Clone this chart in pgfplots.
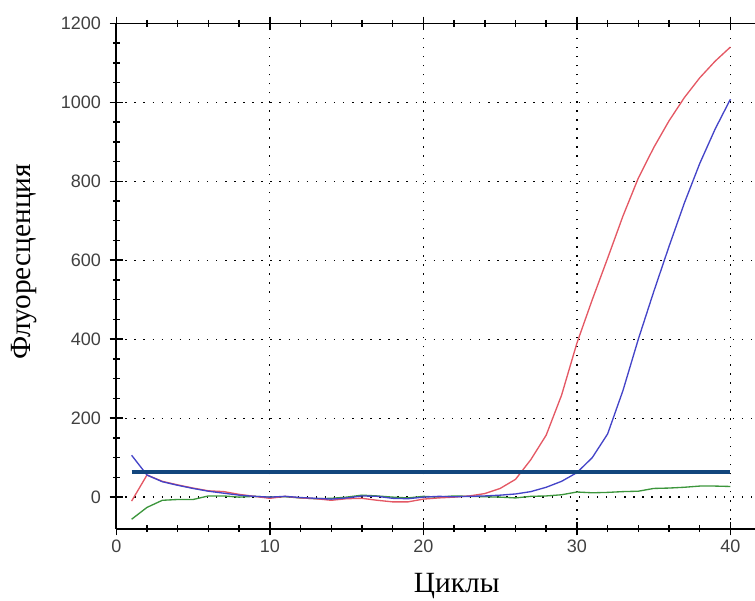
\documentclass[border=0pt]{standalone}
\usepackage{fontspec}
\setmainfont{Liberation Serif}
\newfontfamily\sansf{Liberation Sans}
\usepackage{pgfplots}
\usepackage{pgfplotstable}
\pgfplotsset{compat=1.18}

\definecolor{cred}{RGB}{228,88,100}
\definecolor{cblue}{RGB}{68,68,200}
\definecolor{cgreen}{RGB}{60,150,60}
\definecolor{cthr}{RGB}{18,70,125}

% cycle, red, blue, green
\pgfplotstableread{
c r b g
1 -10 106 -56
2 56 56 -26
3 40 39 -8
4 31 30 -6
5 23 22 -6
6 16 15 3
7 14 10 3
8 7 5 0
9 2 2 2
10 -3 0 0
11 2 2 1
12 -2 -1 -2
13 -4 -3 -4
14 -8 -5 -3
15 -4 -2 0
16 -3 3 5
17 -8 2 3
18 -12 -3 0
19 -12 -4 -2
20 -5 0 2
21 -2 2 0
22 0 1 3
23 3 2 2
24 9 3 1
25 22 5 0
26 45 8 -2
27 95 14 2
28 157 25 3
29 258 40 6
30 390 62 13
31 500 100 11
32 605 160 12
33 712 270 14
34 808 400 15
35 885 520 22
36 953 635 23
37 1012 745 25
38 1062 845 28
39 1104 932 28
40 1140 1008 27
}\pcr

\begin{document}
\begin{tikzpicture}
\begin{axis}[
  at={(0,0)}, anchor=south west,
  scale only axis, width=479pt, height=379pt,
  xmin=0, xmax=41.6, ymin=-80, ymax=1200,
  axis x line=box, axis y line=left,
  axis line style={-, line width=1.2pt},
  xtick={0,10,20,30,40}, minor x tick num=4,
  ytick={0,200,400,600,800,1000,1200}, minor y tick num=3,
  xtick pos=both,
  tick align=center,
  major tick length=10pt, minor tick length=5pt,
  every tick/.style={black, line width=1.1pt},
  grid=major,
  grid style={black, line width=1pt, dash pattern=on 1.1pt off 5.7pt},
  /pgf/number format/assume math mode=true,
  /pgf/number format/1000 sep={},
  tick label style={font=\sansf\fontsize{13.5}{13.5}\selectfont, text=black!75},
  yticklabel style={xshift=-3pt},
  xlabel={Циклы},
  ylabel={Флуоресценция},
  label style={font=\fontsize{22}{22}\selectfont},
  xlabel style={at={([yshift=-48pt]axis description cs:0.533,0)}, anchor=base},
  ylabel style={at={([xshift=-64pt]axis description cs:0,0.528)}, anchor=base},
]
\addplot[cgreen, line width=1pt] table[x=c, y=g] {\pcr};
\addplot[cred, line width=1pt] table[x=c, y=r] {\pcr};
\addplot[cblue, line width=1pt] table[x=c, y=b] {\pcr};
\addplot[cthr, line width=2.5pt] coordinates {(1,64) (40,64)};
\end{axis}
\pgfresetboundingbox
\path (-87.2pt,-53.6pt) rectangle (479pt,396.5pt);
\end{tikzpicture}
\end{document}
